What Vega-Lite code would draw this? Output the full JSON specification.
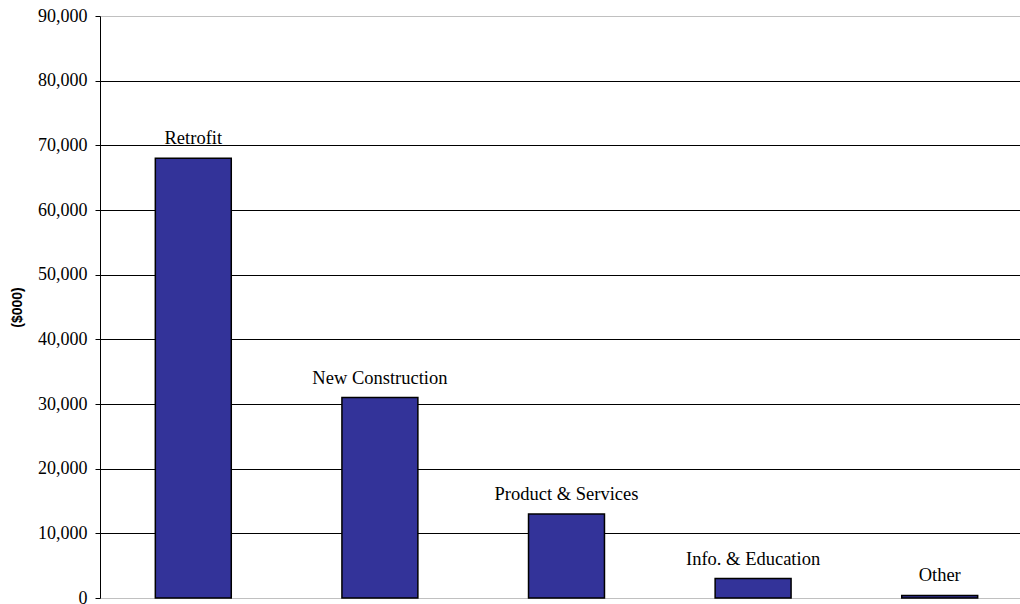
{
  "$schema": "https://vega.github.io/schema/vega-lite/v6.json",
  "width": 933,
  "height": 582,
  "autosize": {"type": "none"},
  "padding": {"left": 100, "top": 16, "right": 0, "bottom": 6},
  "background": "white",
  "config": {"view": {"stroke": null}},
  "data": {
    "values": [
      {"category": "Retrofit", "amount": 68000},
      {"category": "New Construction", "amount": 31000},
      {"category": "Product & Services", "amount": 13000},
      {"category": "Info. & Education", "amount": 3000},
      {"category": "Other", "amount": 400}
    ]
  },
  "encoding": {
    "x": {
      "field": "category",
      "type": "nominal",
      "sort": null,
      "axis": null,
      "scale": {"paddingInner": 0.593, "paddingOuter": 0.2965}
    },
    "y": {
      "field": "amount",
      "type": "quantitative",
      "scale": {"domain": [0, 90000], "nice": false},
      "axis": {
        "title": "($000)",
        "titleFont": "Liberation Sans",
        "titleFontSize": 14,
        "titleFontWeight": "bold",
        "titleColor": "black",
        "titleAngle": -90,
        "titleX": -83,
        "titleY": 291,
        "titleAlign": "center",
        "titleBaseline": "middle",
        "values": [0, 10000, 20000, 30000, 40000, 50000, 60000, 70000, 80000, 90000],
        "format": ",d",
        "labelFont": "Liberation Serif",
        "labelFontSize": 18,
        "labelColor": "black",
        "labelPadding": 8,
        "tickSize": 5,
        "tickColor": "black",
        "domainColor": "black",
        "grid": true,
        "gridColor": {"condition": {"test": "datum.value === 0 || datum.value === 90000", "value": "#c0c0c0"}, "value": "black"},
        "gridWidth": 1
      }
    }
  },
  "layer": [
    {
      "mark": {"type": "bar", "color": "#333399", "stroke": "black", "strokeWidth": 1.5}
    },
    {
      "mark": {"type": "text", "font": "Liberation Serif", "fontSize": 18.5, "color": "black", "baseline": "alphabetic", "dy": -14},
      "encoding": {"text": {"field": "category"}}
    }
  ]
}
